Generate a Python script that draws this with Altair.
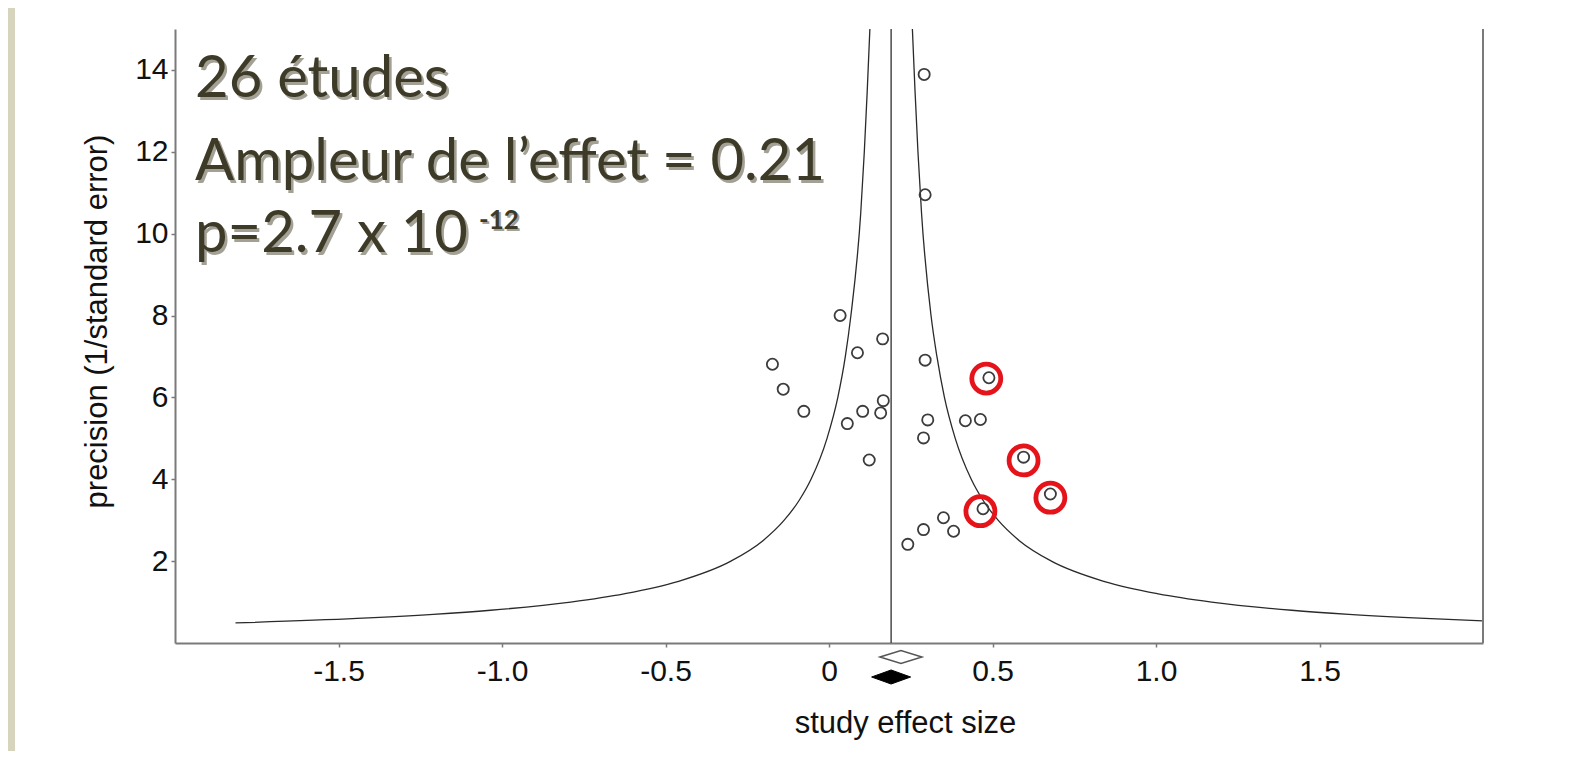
import altair as alt
import pandas as pd

# ---- data ----
effect = [0.291, 0.294, 0.034, 0.164, 0.087, -0.173, -0.14, 0.294, 0.489, 0.166,
          -0.077, 0.103, 0.158, 0.056, 0.302, 0.417, 0.463, 0.289, 0.123, 0.595,
          0.677, 0.471, 0.350, 0.289, 0.381, 0.241]
precision = [13.89, 10.95, 8.00, 7.43, 7.09, 6.81, 6.20, 6.91, 6.48, 5.92,
             5.66, 5.66, 5.62, 5.36, 5.45, 5.43, 5.46, 5.01, 4.47, 4.54,
             3.64, 3.28, 3.06, 2.77, 2.73, 2.41]

hl_effect = [0.481, 0.595, 0.677, 0.463]
hl_precision = [6.46, 4.46, 3.55, 3.22]

right_curve_x = [0.255, 0.263, 0.272, 0.283, 0.312, 0.330, 0.353, 0.386, 0.435,
                 0.470, 0.517, 0.582, 0.680, 0.843, 1.007, 1.170, 1.415, 1.590, 1.823, 2.0]
right_curve_y = [15.0, 13.5, 12.0, 10.5, 8.0, 7.0, 6.0, 5.0, 4.0,
                 3.5, 3.0, 2.5, 2.0, 1.5, 1.2, 1.0, 0.8, 0.7, 0.6, 0.54]
left_curve_x = [0.125, 0.117, 0.108, 0.097, 0.067, 0.050, 0.027, -0.006, -0.055,
                -0.090, -0.137, -0.202, -0.300, -0.463, -0.627, -0.790, -1.035, -1.210, -1.443, -1.815]
left_curve_y = [15.0, 13.5, 12.0, 10.5, 8.0, 7.0, 6.0, 5.0, 4.0,
                3.5, 3.0, 2.5, 2.0, 1.5, 1.2, 1.0, 0.8, 0.7, 0.6, 0.49]

pooled_line = 0.19
diamond_open_effect = 0.22
diamond_filled_effect = 0.19

x_ticks = [-1.5, -1.0, -0.5, 0, 0.5, 1.0, 1.5]
y_ticks = [2, 4, 6, 8, 10, 12, 14]

ann_lines = ["26 études", "Ampleur de l\u2019effet = 0.21", "p=2.7 x 10"]
ann_sup = "-12"

# ---- layout ----
W, H = 1308, 614
AX = "#7a7a7a"
TXT = "#3d3a27"
SHADOW = "#a3a196"
BEIGE = "#d6d4bc"

xs = alt.Scale(domain=[-2, 2], nice=False, zero=False)
ys = alt.Scale(domain=[0, 15], nice=False, zero=False)

xaxis = alt.Axis(values=x_ticks, grid=False, title="study effect size",
                 labelExpr="datum.value == 0 ? '0' : (datum.value < 0 ? '-' : '') + format(abs(datum.value), '.1f')",
                 titleX=730, titleY=65, titleBaseline="top", titleAlign="center",
                 labelPadding=9)
yaxis = alt.Axis(values=y_ticks, grid=False, title="precision (1/standard error)",
                 titleX=-62, titleY=292, titleAngle=270, titleBaseline="bottom",
                 titleAlign="center", labelPadding=3)

X = lambda f: alt.X(f, type="quantitative", scale=xs, axis=xaxis)
Y = lambda f: alt.Y(f, type="quantitative", scale=ys, axis=yaxis)

pts = pd.DataFrame({"x": effect, "y": precision})
hl = pd.DataFrame({"x": hl_effect, "y": hl_precision})
rc = pd.DataFrame({"x": right_curve_x, "y": right_curve_y})
lc = pd.DataFrame({"x": left_curve_x, "y": left_curve_y})

strip = alt.Chart(alt.Data(values=[{}])).mark_rect(color=BEIGE).encode(
    x=alt.value(-167), x2=alt.value(-160), y=alt.value(-21), y2=alt.value(730))

left_line = alt.Chart(lc).mark_line(color="#2a2a2a", strokeWidth=1.3, interpolate="monotone").encode(
    x=X("x"), y=Y("y"), order="y:Q")
right_line = alt.Chart(rc).mark_line(color="#2a2a2a", strokeWidth=1.3, interpolate="monotone").encode(
    x=X("x"), y=Y("y"), order="y:Q")

vline = alt.Chart(pd.DataFrame({"x": [pooled_line], "y": [0], "y2": [15]})).mark_rule(
    color="#4a4a4a", strokeWidth=1.5).encode(x=X("x"), y=Y("y"), y2="y2")
rframe = alt.Chart(pd.DataFrame({"x": [2.0], "y": [0], "y2": [15]})).mark_rule(
    color=AX, strokeWidth=2).encode(x=X("x"), y=Y("y"), y2="y2")

points = alt.Chart(pts).mark_point(shape="circle", filled=False, stroke="#3c3c3c",
                                   strokeWidth=1.8, size=125, opacity=1).encode(x=X("x"), y=Y("y"))
red = alt.Chart(hl).mark_point(shape="circle", filled=False, stroke="#e5141b",
                               strokeWidth=4.8, size=840, opacity=1).encode(x=X("x"), y=Y("y"))

d_open = alt.Chart(pd.DataFrame({"x": [diamond_open_effect]})).mark_point(
    shape="M-1,0L0,-0.31L1,0L0,0.31Z", filled=True, fill="white", stroke="#555555",
    strokeWidth=1.5, size=1764, opacity=1).encode(x=X("x"), y=alt.value(628))
d_fill = alt.Chart(pd.DataFrame({"x": [diamond_filled_effect]})).mark_point(
    shape="M-1,0L0,-0.36L1,0L0,0.36Z", filled=True, fill="black", stroke="black",
    strokeWidth=1, size=1521, opacity=1).encode(x=X("x"), y=alt.value(648))

layers = [strip, left_line, right_line, vline, rframe, points, red, d_open, d_fill]

ann_y = [68, 151, 223]
for txt, yy in zip(ann_lines, ann_y):
    for col, off in [(SHADOW, 2.5), (TXT, 0)]:
        layers.append(alt.Chart(alt.Data(values=[{"t": txt}])).mark_text(
            font="Lato", fontSize=58, color=col, align="left", baseline="alphabetic",
            dx=off, dy=off).encode(text="t:N", x=alt.value(20), y=alt.value(yy)))
for col, off in [(SHADOW, 2), (TXT, 0)]:
    layers.append(alt.Chart(alt.Data(values=[{"t": ann_sup}])).mark_text(
        font="Lato", fontSize=26, fontWeight="bold", color=col, align="left",
        baseline="alphabetic", dx=off, dy=off).encode(
        text="t:N", x=alt.value(304), y=alt.value(200)))

chart = alt.layer(*layers).properties(
    width=W, height=H,
    autosize=alt.AutoSizeParams(type="none"),
    padding={"left": 167, "top": 21, "right": 95, "bottom": 108},
    background="white",
).configure_view(stroke=None).configure_axis(
    labelFont="Liberation Sans", labelFontSize=30, labelColor="#111111",
    titleFont="Liberation Sans", titleFontSize=31, titleFontWeight="normal", titleColor="#111111",
    domainColor=AX, domainWidth=2, tickColor=AX, tickWidth=1.5, tickSize=4,
)

chart.save("out.html", embed_options={"renderer": "svg", "actions": False})
